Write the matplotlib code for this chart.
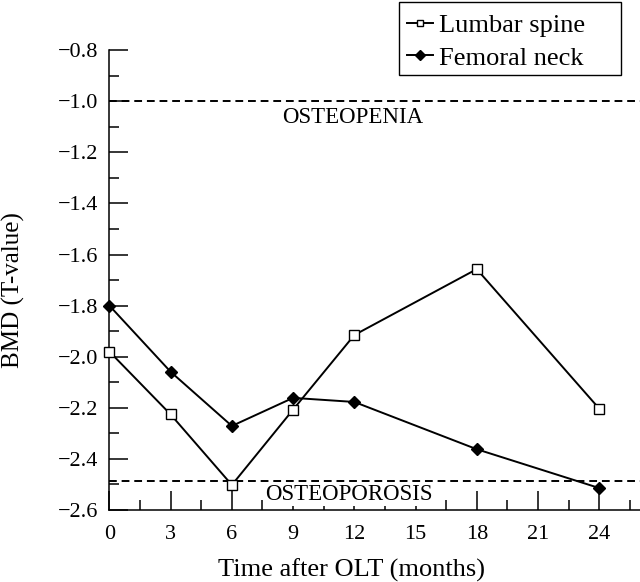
import matplotlib.pyplot as plt
from matplotlib.patches import Rectangle
from matplotlib.ticker import MultipleLocator

plt.rcParams['font.family'] = ['Liberation Serif', 'DejaVu Serif']

months = [0, 3, 6, 9, 12, 18, 24]
lumbar_spine = [-1.98, -2.226, -2.502, -2.207, -1.915, -1.657, -2.203]
femoral_neck = [-1.80, -2.059, -2.271, -2.161, -2.177, -2.362, -2.514]
osteopenia_cut = -1.0
osteoporosis_cut = -2.486
y_ticks = [-2.6, -2.4, -2.2, -2.0, -1.8, -1.6, -1.4, -1.2, -1.0, -0.8]

fig = plt.figure(figsize=(6.4, 5.82), dpi=100)
ax = fig.add_axes([0.171, 0.1237, 0.829, 0.790])

ax.plot(months, lumbar_spine, color='black', lw=1.4, marker='s', ms=7,
        mfc='white', mec='black', mew=1.0, label='Lumbar spine', clip_on=False, zorder=4)
ax.plot(months, femoral_neck, color='black', lw=1.4, marker='D', ms=6,
        mfc='black', mec='black', label='Femoral neck', clip_on=False, zorder=4)

ax.axhline(osteopenia_cut, color='black', lw=1.4, ls=(0, (4, 2.5)))
ax.axhline(osteoporosis_cut, color='black', lw=1.4, ls=(0, (4, 2.5)))
ax.text(11.9, -1.063, 'OSTEOPENIA', ha='center', va='center', fontsize=16.5)
ax.text(11.71, -2.541, 'OSTEOPOROSIS', ha='center', va='center', fontsize=16.5,
        bbox=dict(facecolor='white', edgecolor='none', pad=0.5), zorder=3)

ax.set_xlim(0, 26)
ax.set_ylim(-2.6, -0.8)
ax.set_xticks(range(0, 25, 3))
ax.xaxis.set_minor_locator(MultipleLocator(1.5))
ax.set_yticks(y_ticks)
ax.set_yticklabels(['\u2212%.1f' % abs(v) for v in y_ticks])
ax.yaxis.set_minor_locator(MultipleLocator(0.1))
ax.tick_params(which='major', direction='in', length=13.7, width=1.1, labelsize=16)
ax.tick_params(which='minor', direction='in', length=7.2, width=1.1)
ax.tick_params(axis='x', which='major', pad=10.5)
ax.tick_params(axis='y', which='major', pad=8)

for side in ['top', 'right']:
    ax.spines[side].set_visible(False)
ax.spines['left'].set_linewidth(1.1)
ax.spines['bottom'].set_linewidth(1.1)

ax.set_xlabel('Time after OLT (months)', fontsize=19)
ax.xaxis.set_label_coords(0.456, -0.105)
ax.set_ylabel('BMD (T-value)', fontsize=18)
ax.yaxis.set_label_coords(-0.16, 0.478)

leg = fig.legend(loc='center left', bbox_to_anchor=(407 / 640, 1 - 41.5 / 582), fontsize=19,
                 handlelength=1.0, handletextpad=0.22, borderpad=0, borderaxespad=0,
                 labelspacing=0.36, frameon=False)
for h in leg.legend_handles:
    h.set_markersize(5)
fig.patches.append(Rectangle((399 / 640, 1 - 75 / 582), 222 / 640, 73 / 582,
                             transform=fig.transFigure, fill=False,
                             edgecolor='black', lw=1.0))

fig.savefig('out.png', dpi=100)
